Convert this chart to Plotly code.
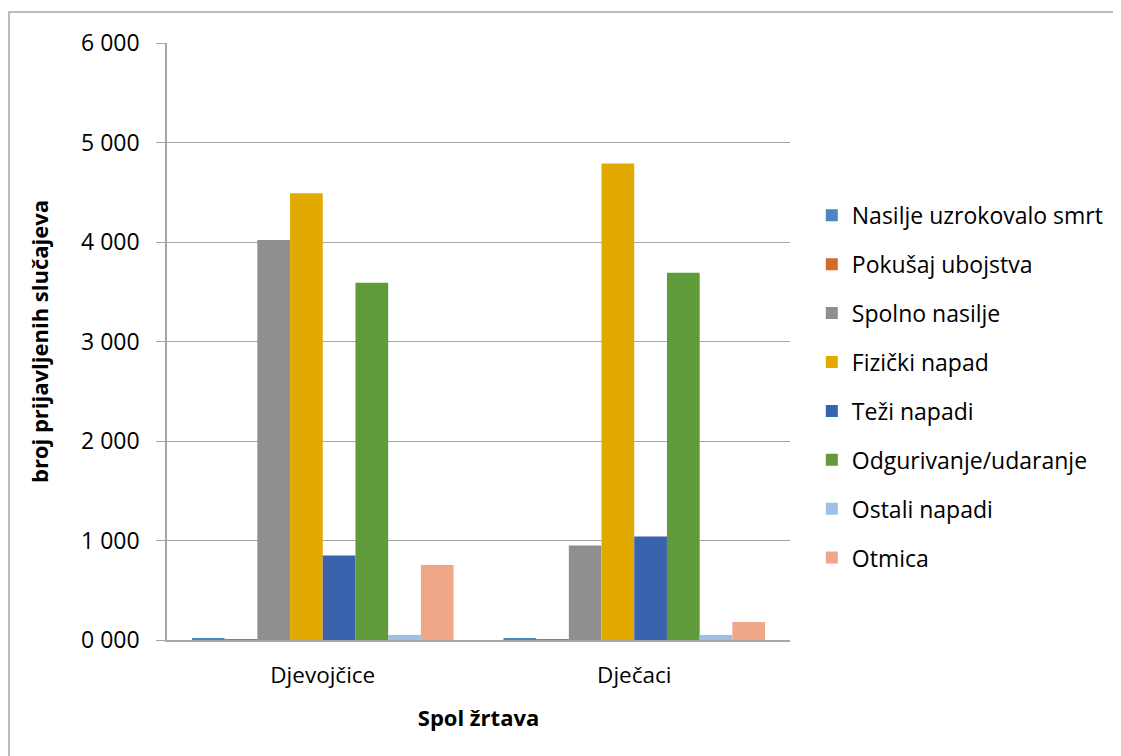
import plotly.graph_objects as go

categories = ["Djevojčice", "Dječaci"]

series_names = [
    "Nasilje uzrokovalo smrt",
    "Pokušaj ubojstva",
    "Spolno nasilje",
    "Fizički napad",
    "Teži napadi",
    "Odgurivanje/udaranje",
    "Ostali napadi",
    "Otmica",
]

nasilje_smrt = [12, 14]
pokusaj_ubojstva = [10, 5]
spolno_nasilje = [4020, 950]
fizicki_napad = [4490, 4790]
tezi_napadi = [850, 1040]
odgurivanje = [3590, 3690]
ostali_napadi = [50, 50]
otmica = [755, 180]

values = [nasilje_smrt, pokusaj_ubojstva, spolno_nasilje, fizicki_napad,
          tezi_napadi, odgurivanje, ostali_napadi, otmica]

colors = ["#4a86c0", "#d46b2a", "#8f8f8f", "#e2aa00",
          "#3a62ad", "#5f9a3b", "#9dc0e4", "#f0a788"]

tick_vals = [0, 1000, 2000, 3000, 4000, 5000, 6000]
tick_text = ["0 000", "1 000", "2 000", "3 000", "4 000", "5 000", "6 000"]

fig = go.Figure()
for name, vals, col in zip(series_names, values, colors):
    fig.add_trace(go.Bar(
        x=categories, y=vals, name=name, marker_color=col,
        marker_line_width=0, legendgroup=name,
    ))

grid = "#a6a6a6"
fig.update_layout(
    width=1121, height=756,
    margin=dict(l=159, r=339, t=35, b=124),
    plot_bgcolor="white", paper_bgcolor="white",
    font=dict(family="Open Sans, sans-serif", color="#000", size=21),
    barmode="group", bargap=0.16, bargroupgap=0,
    legend=dict(x=1.035, y=0.424, yanchor="middle", xanchor="left",
                font=dict(size=23), tracegroupgap=16,
                itemwidth=30),
    xaxis=dict(showline=True, linecolor=grid, linewidth=1.5,
               ticks="", tickfont=dict(size=22.5), ticklabelstandoff=14,
               title=dict(text="<b>Spol žrtava</b>", font=dict(size=22),
                          standoff=22)),
    yaxis=dict(range=[0, 6000], tickvals=tick_vals, ticktext=tick_text,
               showgrid=True, gridcolor=grid, gridwidth=1,
               showline=True, linecolor=grid, linewidth=1.5,
               ticks="outside", ticklen=9, tickcolor=grid,
               tickfont=dict(size=23), ticklabelstandoff=12,
               zeroline=False,
               title=dict(text="<b>broj prijavljenih slučajeva</b>",
                          font=dict(size=22), standoff=26)),
)

# outer chart border
fig.add_shape(type="rect", xref="paper", yref="paper",
              x0=(9 - 167) / 623, x1=(1140 - 167) / 623,
              y0=-140 / 597, y1=(640 - 12) / 597,
              line=dict(color="#a6a6a6", width=1.5), layer="below")

fig.write_html("out.html")
